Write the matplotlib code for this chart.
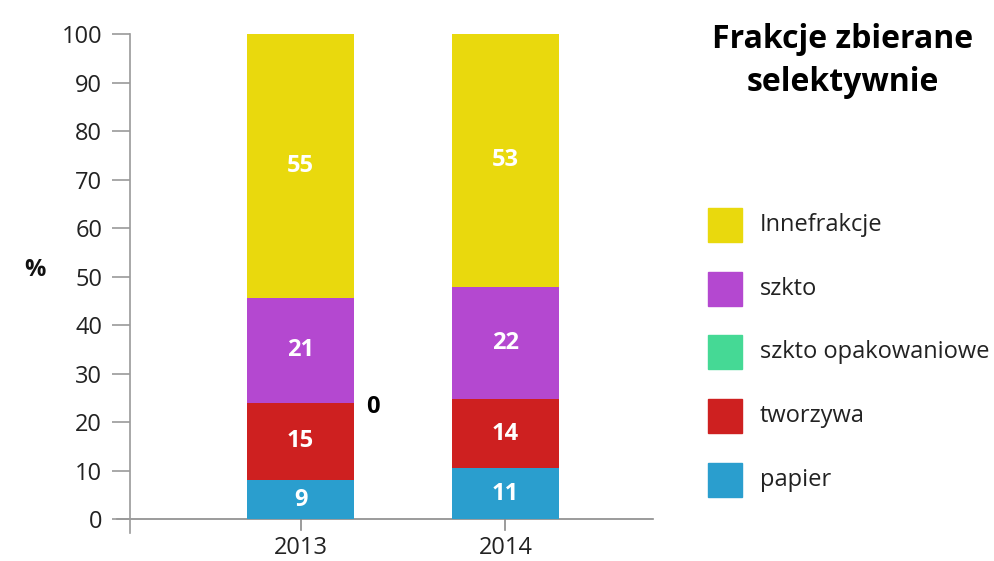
import numpy as np
import matplotlib
matplotlib.use("Agg")
import matplotlib.pyplot as plt
from matplotlib.patches import Rectangle

plt.rcParams['font.family'] = ['Open Sans', 'DejaVu Sans']

years = ['2013', '2014']
categories = ['papier', 'tworzywa', 'szkto opakowaniowe', 'szkto', 'Innefrakcje']
colors = ['#2A9ECE', '#CE2020', '#45D995', '#B448D0', '#E9D90D']

# segment heights (%)
heights = {
    'papier':             [8.1, 10.6],
    'tworzywa':           [15.9, 14.1],
    'szkto opakowaniowe': [0.0, 0.0],
    'szkto':              [21.7, 23.2],
    'Innefrakcje':        [54.3, 52.1],
}
# value labels printed on the chart
labels = {
    'papier':             ['9', '11'],
    'tworzywa':           ['15', '14'],
    'szkto opakowaniowe': ['0', None],
    'szkto':              ['21', '22'],
    'Innefrakcje':        ['55', '53'],
}

W, H = 995, 561
fig = plt.figure(figsize=(W / 100, H / 100), dpi=100)
# axes box in pixel coords: left spine at x=130, right end 653, top (100) at 34, bottom 533
ax = fig.add_axes([130 / W, 1 - 533 / H, (653 - 130) / W, (533 - 34) / H])

x = np.arange(len(years))
bottom = np.zeros(len(years))
for cat, col in zip(categories, colors):
    h = np.array(heights[cat])
    ax.bar(x, h, 0.52, bottom=bottom, color=col, zorder=2)
    for i in range(len(years)):
        lab = labels[cat][i]
        if lab is None:
            continue
        if h[i] > 0:
            ax.text(x[i], bottom[i] + h[i] / 2, lab, ha='center', va='center',
                    color='white', fontsize=17, fontweight='bold', zorder=3)
        else:
            ax.text(x[i] + 0.26 + 0.06, bottom[i] - 0.8, lab, ha='left', va='center',
                    color='black', fontsize=17, fontweight='bold', zorder=3)
    bottom += h

ax.set_xlim(-0.832, 1.72)
ax.set_ylim(-(533 - 519.3) / 4.85, 100)
ax.set_yticks(np.arange(0, 101, 10))
ax.set_xticks(x)
ax.set_xticklabels(years)

for s in ['top', 'right', 'bottom']:
    ax.spines[s].set_visible(False)
ax.spines['left'].set_color('#9a9a9a')
ax.spines['left'].set_linewidth(1.2)
ax.axhline(0, xmin=-13 / 523, xmax=1, color='#8a8a8a', lw=1.2, clip_on=False, zorder=1)

ax.tick_params(axis='y', length=13, width=1.2, color='#9a9a9a', pad=7,
               labelsize=17, labelcolor='#222222')
ax.tick_params(axis='x', length=0, pad=2, labelsize=17, labelcolor='#222222')
for xi in x:
    ax.plot([xi, xi], [0, -2.2], color='#8a8a8a', lw=1.2, clip_on=False, zorder=1)

fig.text(35 / W, 1 - 270 / H, '%', ha='center', va='center', fontsize=17,
         fontweight='bold', color='#111111')

# title
fig.text(843 / W, 1 - 40 / H, 'Frakcje zbierane', ha='center', va='center',
         fontsize=23, fontweight='bold', color='black')
fig.text(843 / W, 1 - 82 / H, 'selektywnie', ha='center', va='center',
         fontsize=23, fontweight='bold', color='black')

# legend, drawn top to bottom
leg_y = [225, 289, 352, 416, 480]
for cat, col, yy in zip(categories[::-1], colors[::-1], leg_y):
    fig.patches.append(Rectangle((708 / W, 1 - (yy + 17) / H), 34 / W, 34 / H,
                                 transform=fig.transFigure, color=col))
    fig.text(760 / W, 1 - yy / H, cat, ha='left', va='center', fontsize=17,
             color='#222222')

fig.savefig('out.png', dpi=100)
